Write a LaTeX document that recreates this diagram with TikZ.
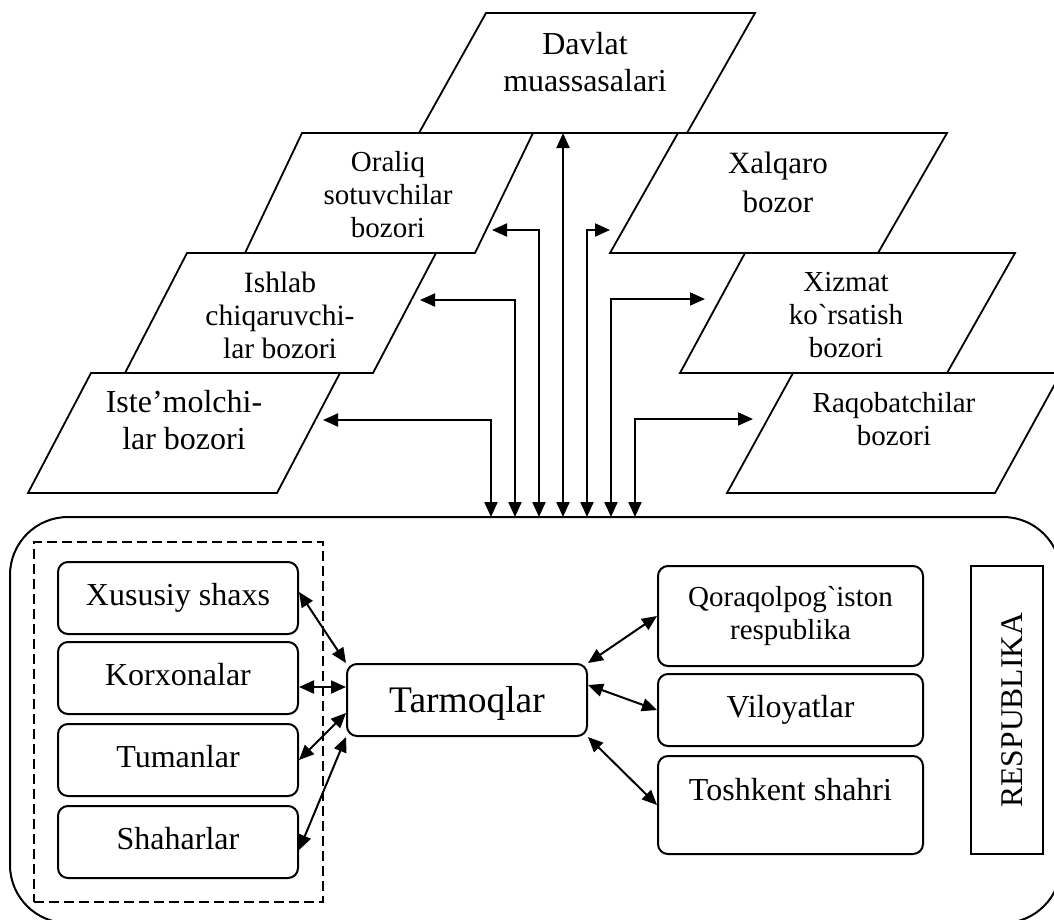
\documentclass[tikz,border=0pt]{standalone}
\usepackage{fontspec}
\setmainfont{Liberation Serif}[Ligatures=TeXOff]
\usetikzlibrary{arrows.meta}
\begin{document}
\begin{tikzpicture}[x=1pt,y=-1pt,
  para/.style={draw, line width=1.8pt, line join=miter},
  lbl/.style={align=center, inner sep=0pt},
  frame/.style={draw, line width=2pt, rounded corners=10pt, inner sep=0pt, align=center},
  oneline/.style={font=\fontsize{32}{37}\selectfont, text height=22pt, text depth=8pt},
  both/.style={{Triangle[length=15pt,width=13pt]}-{Triangle[length=15pt,width=13pt]}, line width=2pt},
]
\useasboundingbox (0,0) rectangle (1054,919);
\clip (0,0) rectangle (1054,919);

% market parallelograms
\draw[para] (419,133) -- (486,13) -- (755,13) -- (687,133) -- cycle;
\draw[para] (245,253) -- (302,133) -- (533,133) -- (475,253) -- cycle;
\draw[para] (125,373) -- (187,253) -- (436,253) -- (373,373) -- cycle;
\draw[para] (28,493) -- (91,373) -- (340,373) -- (277,493) -- cycle;
\draw[para] (610,253) -- (678,133) -- (947,133) -- (878,253) -- cycle;
\draw[para] (680,373) -- (745,253) -- (1015,253) -- (947,373) -- cycle;
\draw[para] (727,493) -- (793,373) -- (1061,373) -- (995,493) -- cycle;

\node[lbl, font=\fontsize{32}{37}\selectfont] (davlat) at (585,62.5) {Davlat\\muassasalari};
\node[lbl, font=\fontsize{29}{33}\selectfont] (oraliq) at (388,195) {Oraliq\\sotuvchilar\\bozori};
\node[lbl, font=\fontsize{29.5}{33}\selectfont] (ishlab) at (280,315) {Ishlab\\chiqaruvchi-\\lar bozori};
\node[lbl, font=\fontsize{32}{37}\selectfont] (iste) at (184,420.5) {Iste’molchi-\\lar bozori};
\node[lbl, font=\fontsize{31}{39}\selectfont] (xalqaro) at (778,182) {Xalqaro\\bozor};
\node[lbl, font=\fontsize{29}{33}\selectfont] (xizmat) at (846,315) {Xizmat\\ko`rsatish\\bozori};
\node[lbl, font=\fontsize{29}{33}\selectfont] (raqob) at (894,419) {Raqobatchilar\\bozori};

% entry points on the market shapes
\coordinate (iste-in) at (323,420);
\coordinate (ishlab-in) at (420,300);
\coordinate (oraliq-in) at (492,230);
\coordinate (davlat-in) at (563,133);
\coordinate (xalqaro-in) at (610,230);
\coordinate (xizmat-in) at (705,299);
\coordinate (raqob-in) at (753,419);

% outer frame of the republic
\node[draw, line width=2pt, rounded corners=58pt, minimum width=1051pt,
      minimum height=406pt, inner sep=0pt] (outer) at (535.5,720) {};

% bus of arrows entering the frame
\coordinate (b1) at (491,517);
\coordinate (b2) at (515,517);
\coordinate (b3) at (539,517);
\coordinate (b4) at (563,517);
\coordinate (b5) at (587,517);
\coordinate (b6) at (611,517);
\coordinate (b7) at (635,517);

\draw[both] (iste-in) -| (b1);
\draw[both] (ishlab-in) -| (b2);
\draw[both] (oraliq-in) -| (b3);
\draw[both] (davlat-in) -- (b4);
\draw[both] (xalqaro-in) -| (b5);
\draw[both] (xizmat-in) -| (b6);
\draw[both] (raqob-in) -| (b7);

% local level group
\node[draw, dash pattern=on 10pt off 5pt, line width=1.8pt, minimum width=289pt,
      minimum height=360pt, inner sep=0pt] (group) at (178.5,722) {};
\node[frame, oneline, minimum width=240pt, minimum height=72pt] (xusus) at (178,598) {Xususiy shaxs};
\node[frame, oneline, minimum width=240pt, minimum height=72pt] (korx) at (178,678) {Korxonalar};
\node[frame, oneline, minimum width=240pt, minimum height=72pt] (tum) at (178,760) {Tumanlar};
\node[frame, oneline, minimum width=240pt, minimum height=72pt] (shah) at (178,842) {Shaharlar};

% central node
\node[frame, minimum width=240pt, minimum height=72pt, font=\fontsize{37.5}{42}\selectfont,
      text height=26pt, text depth=2pt] (tarm) at (467,700) {Tarmoqlar};

% regional level
\node[frame, minimum width=265pt, minimum height=100pt, font=\fontsize{29}{33}\selectfont] (qoraq) at (790.5,616) {Qoraqolpog`iston\\respublika};
\node[frame, oneline, minimum width=265pt, minimum height=72pt] (vil) at (790.5,710) {Viloyatlar};
\node[frame, minimum width=265pt, minimum height=98pt, font=\fontsize{32}{37}\selectfont,
      text height=22pt, text depth=32pt] (tosh) at (790.5,805) {Toshkent shahri};

\node[draw, line width=2pt, rotate=90, minimum width=288pt, minimum height=72pt, inner sep=0pt,
      font=\fontsize{31.6}{36}\selectfont, text height=31pt, text depth=0pt] (resp) at (1007,710) {RESPUBLIKA};

% links to the central node
\draw[both] ([yshift=6pt]xusus.east) -- (tarm.north west);
\draw[both] ([yshift=-9pt]korx.east) -- ([yshift=-9pt]korx.east -| tarm.west);
\draw[both] (tum.east) -- ([yshift=-13pt]tarm.west);
\draw[both] ([yshift=-8pt]shah.east) -- (tarm.south west);
\draw[both] (tarm.north east) -- (qoraq.west);
\draw[both] ([yshift=15pt]tarm.east) -- (vil.west);
\draw[both] (tarm.south east) -- (tosh.west);
\end{tikzpicture}
\end{document}
